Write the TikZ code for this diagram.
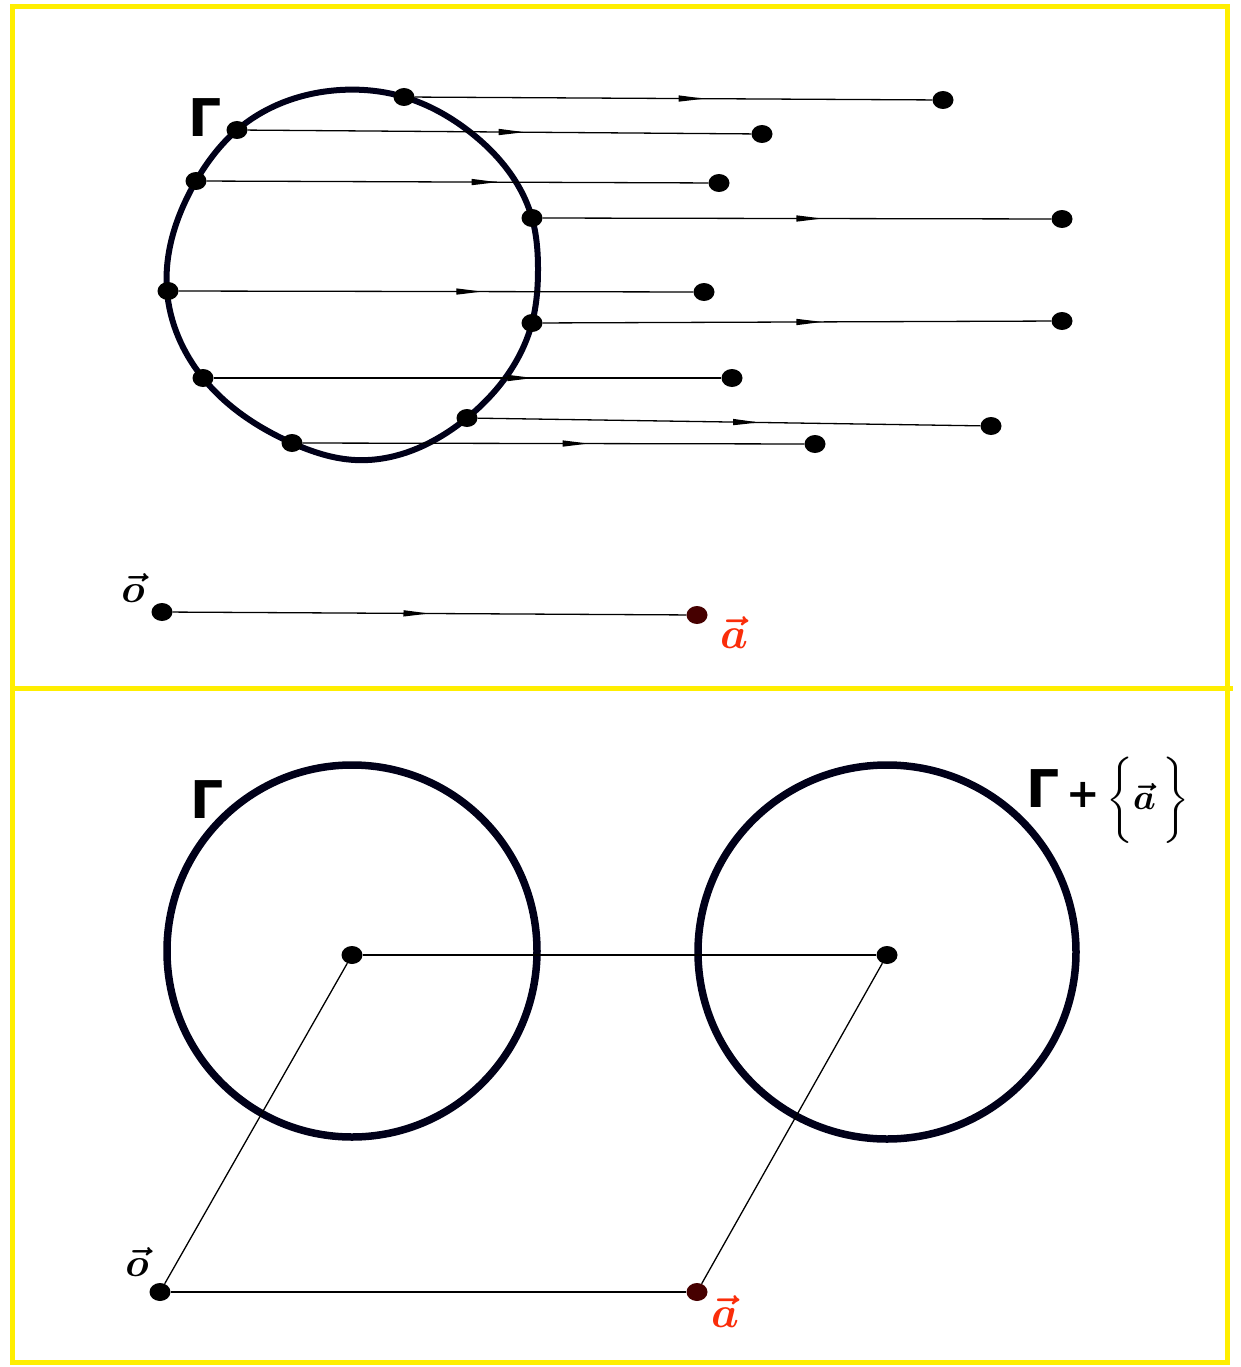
\documentclass[tikz,border=0pt]{standalone}
\usepackage{fontspec}
\usepackage{amsmath}
\usepackage{graphicx}
\usetikzlibrary{arrows.meta,decorations.markings,shapes.geometric,hobby}
\newfontfamily\handfont{DejaVu Sans}
\definecolor{frameyellow}{RGB}{255,238,0}
\definecolor{vred}{RGB}{250,45,10}
\definecolor{dotred}{RGB}{70,0,0}
\tikzset{
  dot/.style={ellipse,fill=black,inner sep=0pt,minimum width=21pt,minimum height=18pt},
  reddot/.style={dot,fill=dotred},
  ray/.style={line width=1.3pt,black},
  curve/.style={line width=6pt,black!90!blue},
  thickcurve/.style={line width=7.5pt,black!90!blue},
  midarrow/.style={postaction={decorate},decoration={markings,
     mark=at position #1 with {\arrow{Triangle[length=26pt,width=6pt]}}}},
  frame/.style={frameyellow,line width=5pt},
  gam/.style={font=\handfont\bfseries\fontsize{52}{58}\selectfont},
  redlab/.style={text=vred}
}
\begin{document}
\begin{tikzpicture}[x=1pt,y=-1pt]
\useasboundingbox[fill=white] (0,0) rectangle (1241,1367);
% frames
\draw[frame] (12,7) rectangle (1227,1362);
\draw[frame] (12,688) -- (1233,688);

% ---------- top panel ----------
\draw[curve,use Hobby shortcut,closed=true]
 (340,90) .. (404,97) .. (470,132) .. (532,218) .. (538,270) .. (532,323) ..
 (467,418) .. (355,460) .. (292,443) .. (203,378) .. (167,291) .. (196,181) .. (237,130);

\node[dot] (p1) at (404,97) {};
\node[dot] (p2) at (237,130) {};
\node[dot] (p3) at (196,181) {};
\node[dot] (p4) at (532,218) {};
\node[dot] (p5) at (168,291) {};
\node[dot] (p6) at (532,323) {};
\node[dot] (p7) at (203,378) {};
\node[dot] (p8) at (467,418) {};
\node[dot] (p9) at (292,443) {};

\node[dot] (q1) at (943,100) {};
\node[dot] (q2) at (762,134) {};
\node[dot] (q3) at (719,183) {};
\node[dot] (q4) at (1062,219) {};
\node[dot] (q5) at (704,292) {};
\node[dot] (q6) at (1062,321) {};
\node[dot] (q7) at (732,378) {};
\node[dot] (q8) at (991,426) {};
\node[dot] (q9) at (815,444) {};

\draw[ray,midarrow=0.56] (p1) -- (q1);
\draw[ray,midarrow=0.55] (p2) -- (q2);
\draw[ray,midarrow=0.58] (p3) -- (q3);
\draw[ray,midarrow=0.55] (p4) -- (q4);
\draw[ray,midarrow=0.59] (p5) -- (q5);
\draw[ray,midarrow=0.55] (p6) -- (q6);
\draw[ray,midarrow=0.63] (p7) -- (q7);
\draw[ray,midarrow=0.56] (p8) -- (q8);
\draw[ray,midarrow=0.57] (p9) -- (q9);

\node[gam] (G1) at (205,118) {Γ};

\node[dot] (o1) at (162,612) {};
\node[reddot] (a1) at (697,615) {};
\draw[ray,midarrow=0.50] (o1) -- (a1);
\node (o1lab) at (133,588) {\scalebox{4}{$\boldsymbol{\vec{o}}$}};
\node[redlab] (a1lab) at (734,633) {\scalebox{4.4}{$\boldsymbol{\vec{a}}$}};

% ---------- bottom panel ----------
\draw[thickcurve] (352,951) ellipse [x radius=185, y radius=186];
\draw[thickcurve] (887,952) ellipse [x radius=189, y radius=187];

\node[dot] (c1) at (352,955) {};
\node[dot] (c2) at (887,955) {};
\node[dot] (o2) at (160,1292) {};
\node[reddot] (a2) at (697,1292) {};

\draw[ray] (c1) -- (c2);
\draw[ray] (o2) -- (c1);
\draw[ray] (a2) -- (c2);
\draw[ray] (o2) -- (a2);

\node[gam] (G2) at (207,800) {Γ};
\node[anchor=west,inner sep=0pt] (G3) at (1026,800)
  {{\handfont\bfseries\fontsize{52}{58}\selectfont Γ}%
   {\handfont\bfseries\fontsize{40}{44}\selectfont\,+\,}%
   \raisebox{-0.3ex}{\scalebox{3.6}{$\boldsymbol{\biggl\{\vec{a}\,\biggr\}}$}}};
\node (o2lab) at (137,1262) {\scalebox{4}{$\boldsymbol{\vec{o}}$}};
\node[redlab] (a2lab) at (725,1312) {\scalebox{4.4}{$\boldsymbol{\vec{a}}$}};
\end{tikzpicture}
\end{document}
